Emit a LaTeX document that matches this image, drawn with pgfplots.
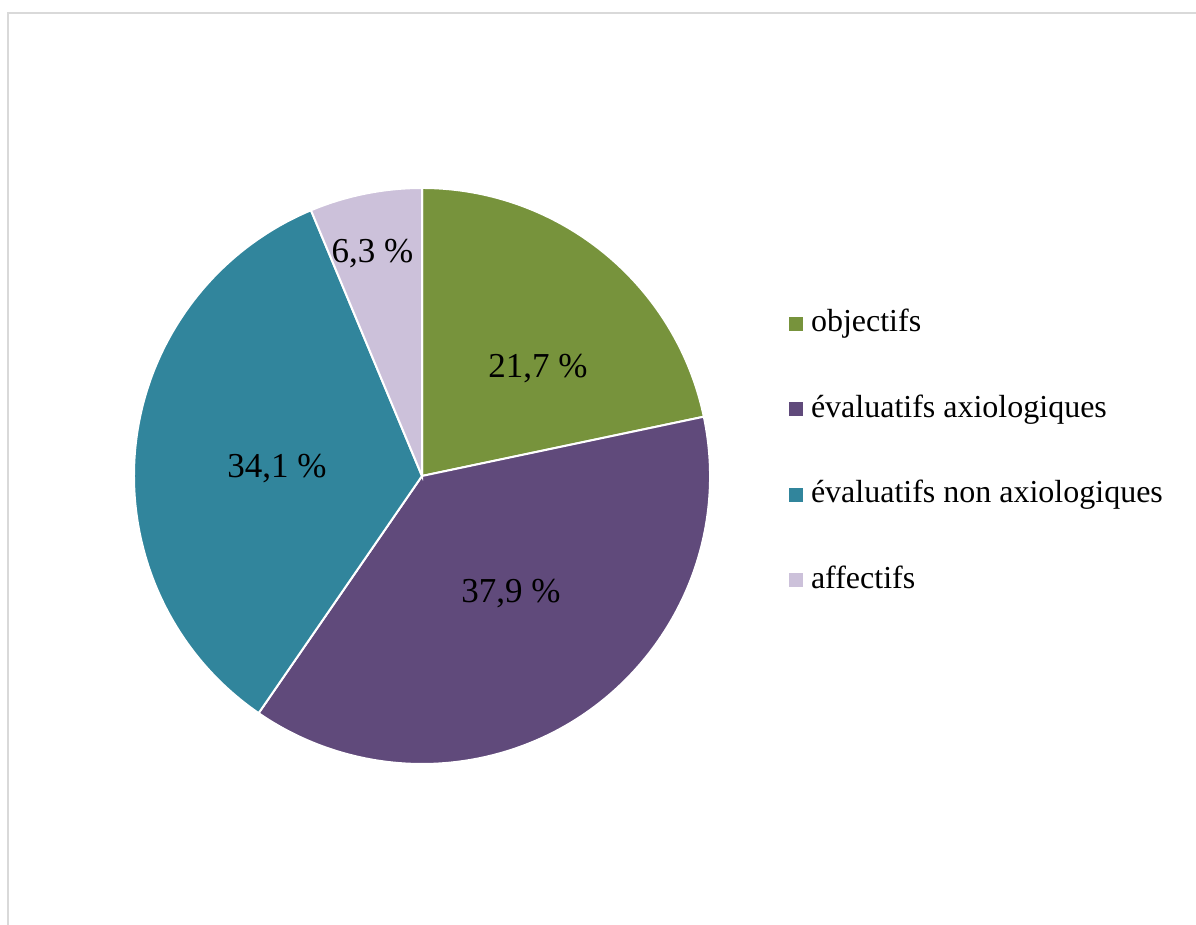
\documentclass[border=0pt]{standalone}
\usepackage{pgfplots}
\pgfplotsset{compat=1.18}
\usepackage{fontspec}
\setmainfont{Liberation Serif}
\definecolor{cobj}{HTML}{77933C}
\definecolor{cax}{HTML}{604A7B}
\definecolor{cnon}{HTML}{31859C}
\definecolor{caff}{HTML}{CCC1DA}
\definecolor{cframe}{HTML}{D9D9D9}
\begin{document}
\begin{tikzpicture}
\begin{axis}[
  x=144pt, y=144pt, scale only axis, hide axis, clip=false,
  xmin=-1.46528, xmax=2.6875, ymin=-1.55903, ymax=1.65278,
  legend cell align=left,
  legend image code/.code={\fill[#1] (0pt,-3.5pt) rectangle (7pt,3.5pt);},
  legend style={at={(axis cs:1.2743,0.5833)}, anchor=north west, draw=none, fill=none,
    inner sep=0pt, outer sep=0pt, row sep=26.7pt,
    font=\fontsize{16}{19}\selectfont,
    nodes={inner sep=0pt, text height=12pt, text depth=4pt},
    /tikz/every odd column/.append style={column sep=4pt}},
]
\addlegendimage{fill=cobj, draw=none}\addlegendentry{objectifs}
\addlegendimage{fill=cax, draw=none}\addlegendentry{évaluatifs axiologiques}
\addlegendimage{fill=cnon, draw=none}\addlegendentry{évaluatifs non axiologiques}
\addlegendimage{fill=caff, draw=none}\addlegendentry{affectifs}
% full picture area
\path[use as bounding box] (axis cs:-1.46528,-1.55903) rectangle (axis cs:2.6875,1.65278);
% frame
\draw[cframe, line width=1pt] (axis cs:2.6875,1.6076) -- (axis cs:-1.4375,1.6076) -- (axis cs:-1.4375,-1.55903);
% slices: values 21.7, 37.9, 34.1, 6.3 (percent), clockwise from 12 o'clock
\fill[cobj, draw=white, line width=1pt] (axis cs:0,0) -- (axis cs:{cos(90)},{sin(90)})
  arc[start angle=90, end angle={90-3.6*21.7}, radius=144pt] -- cycle;
\fill[cax, draw=white, line width=1pt] (axis cs:0,0) -- (axis cs:{cos(90-3.6*21.7)},{sin(90-3.6*21.7)})
  arc[start angle={90-3.6*21.7}, end angle={90-3.6*(21.7+37.9)}, radius=144pt] -- cycle;
\fill[cnon, draw=white, line width=1pt] (axis cs:0,0) -- (axis cs:{cos(90-3.6*(21.7+37.9))},{sin(90-3.6*(21.7+37.9))})
  arc[start angle={90-3.6*(21.7+37.9)}, end angle={90-3.6*(21.7+37.9+34.1)}, radius=144pt] -- cycle;
\fill[caff, draw=white, line width=1pt] (axis cs:0,0) -- (axis cs:{cos(90-3.6*(21.7+37.9+34.1))},{sin(90-3.6*(21.7+37.9+34.1))})
  arc[start angle={90-3.6*(21.7+37.9+34.1)}, end angle={90-3.6*(21.7+37.9+34.1+6.3)}, radius=144pt] -- cycle;
% labels
\node[anchor=base, font=\fontsize{17.5}{21}\selectfont, inner sep=0pt] at (axis cs:0.4028,0.3403) {21,7 \%};
\node[anchor=base, font=\fontsize{17.5}{21}\selectfont, inner sep=0pt] at (axis cs:0.3090,-0.4410) {37,9 \%};
\node[anchor=base, font=\fontsize{17.5}{21}\selectfont, inner sep=0pt] at (axis cs:-0.5035,-0.0069) {34,1 \%};
\node[anchor=base, font=\fontsize{17.5}{21}\selectfont, inner sep=0pt] at (axis cs:-0.1719,0.7396) {6,3 \%};
\end{axis}
\end{tikzpicture}
\end{document}
